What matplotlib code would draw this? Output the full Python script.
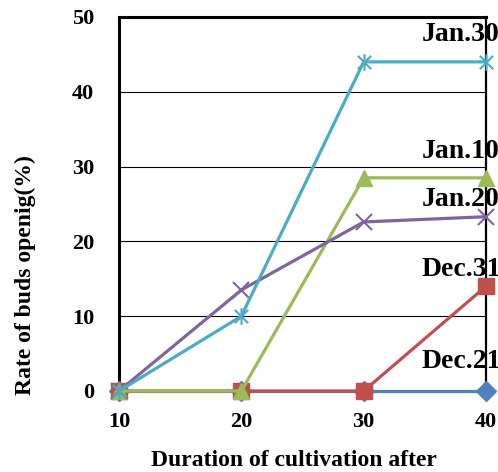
import matplotlib
matplotlib.use("Agg")
import matplotlib.pyplot as plt
from matplotlib.path import Path

# ---- data ----
durations = [10, 20, 30, 40]
series_names = ["Dec.21", "Dec.31", "Jan.10", "Jan.20", "Jan.30"]
dec21 = [0, 0, 0, 0]
dec31 = [0, 0, 0, 14]
jan10 = [0, 0, 28.5, 28.5]
jan20 = [0, 13.5, 22.6, 23.3]
jan30 = [0, 10, 44, 44]
y_ticks = [0, 10, 20, 30, 40, 50]
x_ticks = [10, 20, 30, 40]
x_label = "Duration of cultivation after"
y_label = "Rate of buds openig(%)"

# ---- style ----
colors = ["#4F81BD", "#C0504D", "#9BBB59", "#8064A2", "#4BACC6"]
star = Path([(-1, -1), (1, 1), (-1, 1), (1, -1), (0, -1.25), (0, 1.25)],
            [Path.MOVETO, Path.LINETO, Path.MOVETO, Path.LINETO, Path.MOVETO, Path.LINETO])
markers = ["D", "s", "^", "x", star]
msizes = [10, 12, 11, 12, 12]
# label offsets in pixels relative to last point
label_dy = [29, 17, 26.5, 17, 27]
label_dx = -64

plt.rcParams["font.family"] = ["Liberation Serif", "DejaVu Serif"]
plt.rcParams["font.weight"] = "bold"

fig = plt.figure(figsize=(4.98, 4.72), dpi=100)
ax = fig.add_axes([119 / 498, 1 - 391 / 472, (486 - 119) / 498, (391 - 17) / 472])

all_series = [dec21, dec31, jan10, jan20, jan30]
for i, (name, vals) in enumerate(zip(series_names, all_series)):
    mk = markers[i]
    ax.plot(durations, vals, color=colors[i], lw=2.3, marker=mk, ms=msizes[i],
            mec=colors[i], mfc=colors[i], mew=1.5 if mk in ("x",) or mk is star else 1,
            clip_on=False, zorder=3 + i)
    ax.annotate(name, xy=(durations[-1], vals[-1]), xytext=(label_dx, label_dy[i]),
                textcoords="offset pixels", ha="left", va="center",
                fontsize=20, fontweight="bold", color="black", zorder=10,
                annotation_clip=False)

ax.set_xlim(10, 40)
ax.set_ylim(0, 50)
ax.set_xticks(x_ticks)
ax.set_yticks(y_ticks)
ax.set_xticklabels([str(t) for t in x_ticks], fontsize=16, fontweight="bold")
ax.set_yticklabels([str(t) for t in y_ticks], fontsize=16, fontweight="bold")
ax.tick_params(axis="both", length=0)
ax.tick_params(axis="y", pad=18)
ax.tick_params(axis="x", pad=15)
ax.yaxis.grid(True, color="black", lw=0.8)
ax.set_axisbelow(True)

ax.spines["left"].set_linewidth(2.2)
ax.spines["top"].set_linewidth(2.2)
ax.spines["right"].set_linewidth(1.6)
ax.spines["bottom"].set_linewidth(0.8)
for s in ax.spines.values():
    s.set_zorder(2.5)

fig.text(294 / 498, 1 - 461 / 472, x_label, ha="center", va="center",
         fontsize=17, fontweight="bold")
fig.text(25 / 498, 1 - 275 / 472, y_label, ha="center", va="center",
         rotation=90, fontsize=17, fontweight="bold")

fig.savefig("out.png", dpi=100)
